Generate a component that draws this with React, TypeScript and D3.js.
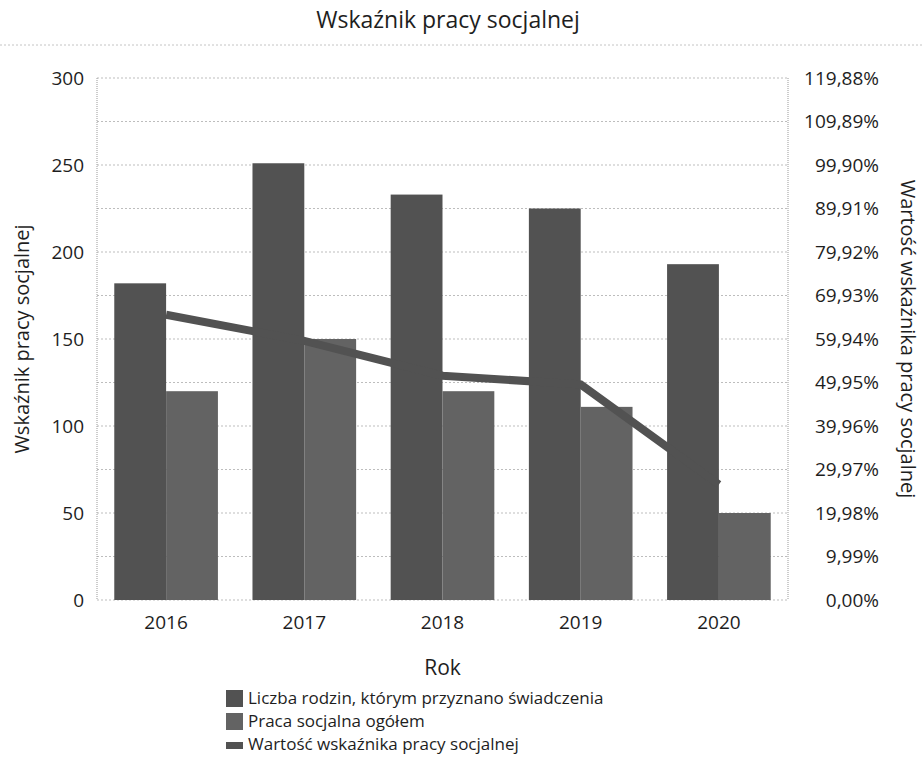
import React from "react";
import * as d3 from "d3";

const years = ["2016", "2017", "2018", "2019", "2020"];
const families = [182, 251, 233, 225, 193];
const socialWork = [120, 150, 120, 111, 50];
const indicator = [65.5, 59.5, 51.5, 49.5, 26.5];
const leftTicks = [0, 50, 100, 150, 200, 250, 300];
const rightTickLabels = ["0,00%", "9,99%", "19,98%", "29,97%", "39,96%", "49,95%", "59,94%", "69,93%", "79,92%", "89,91%", "99,90%", "109,89%", "119,88%"];
const rightMax = 119.88;
const seriesNames = ["Liczba rodzin, którym przyznano świadczenia", "Praca socjalna ogółem", "Wartość wskaźnika pracy socjalnej"];

const W = 923, H = 760;
const left = 97, right = 788, top = 78, bottom = 600;
const darkColor = "#525252";
const lightColor = "#636363";
const textColor = "#1e1e1e";
const font = "'Open Sans', sans-serif";

export default function App() {
  const x = d3.scaleBand<string>().domain(years).range([left, right]).paddingInner(0.25).paddingOuter(0.125);
  const yL = d3.scaleLinear().domain([0, 300]).range([bottom, top]);
  const yR = d3.scaleLinear().domain([0, rightMax]).range([bottom, top]);
  const bw = x.bandwidth() / 2;
  const line = d3.line<number>().x((_, i) => (x(years[i]) as number) + bw).y((d) => yR(d));
  const rightVals = rightTickLabels.map((s) => parseFloat(s.replace(",", ".").replace("%", "")));

  return (
    <svg width={W} height={H} style={{ position: "absolute", left: 0, top: 0, background: "#fff" }} fontFamily={font}>
      <rect width={W} height={H} fill="#fff" />
      <text x={448} y={28} textAnchor="middle" fontSize={23} fill={textColor}>Wskaźnik pracy socjalnej</text>
      <line x1={0} x2={W} y1={45} y2={45} stroke="#c4c4c4" strokeDasharray="2,2" />

      {rightVals.map((v, i) => (
        <line key={"g" + i} x1={left} x2={right} y1={yR(v)} y2={yR(v)} stroke="#bdbdbd" strokeDasharray="2,2" strokeWidth={1} />
      ))}
      <line x1={left} x2={left} y1={top} y2={bottom} stroke="#999" strokeDasharray="1,1" />
      <line x1={right} x2={right} y1={top} y2={bottom} stroke="#999" strokeDasharray="1,1" />

      {years.map((yr, i) => (
        <g key={yr}>
          <rect x={x(yr)} y={yL(families[i])} width={bw} height={bottom - yL(families[i])} fill={darkColor} />
          <rect x={(x(yr) as number) + bw} y={yL(socialWork[i])} width={bw} height={bottom - yL(socialWork[i])} fill={lightColor} />
        </g>
      ))}
      <path d={line(indicator) || ""} fill="none" stroke={darkColor} strokeWidth={8} />

      {leftTicks.map((t) => (
        <text key={"l" + t} x={84} y={yL(t)} dy="0.35em" textAnchor="end" fontSize={19} fill={textColor}>{t}</text>
      ))}
      {rightTickLabels.map((s, i) => (
        <text key={"r" + i} x={879} y={yR(rightVals[i])} dy="0.35em" textAnchor="end" fontSize={19} fill={textColor}>{s}</text>
      ))}
      {years.map((yr) => (
        <text key={"x" + yr} x={(x(yr) as number) + bw} y={629} textAnchor="middle" fontSize={19} fill={textColor}>{yr}</text>
      ))}
      <text x={(left + right) / 2} y={675} textAnchor="middle" fontSize={21} fill={textColor}>Rok</text>
      <text transform={`translate(29,${(top + bottom) / 2}) rotate(-90)`} textAnchor="middle" fontSize={20} fill={textColor}>Wskaźnik pracy socjalnej</text>
      <text transform={`translate(901,${(top + bottom) / 2}) rotate(90)`} textAnchor="middle" fontSize={20} fill={textColor}>Wartość wskaźnika pracy socjalnej</text>

      {seriesNames.map((n, i) => (
        <g key={n}>
          {i < 2 ? (
            <rect x={226} y={690 + i * 23} width={17} height={17} fill={i === 0 ? darkColor : lightColor} />
          ) : (
            <rect x={226} y={690 + i * 23 + 6} width={17} height={7} fill={darkColor} />
          )}
          <text x={248} y={704 + i * 23} fontSize={17} fill={textColor}>{n}</text>
        </g>
      ))}
    </svg>
  );
}
